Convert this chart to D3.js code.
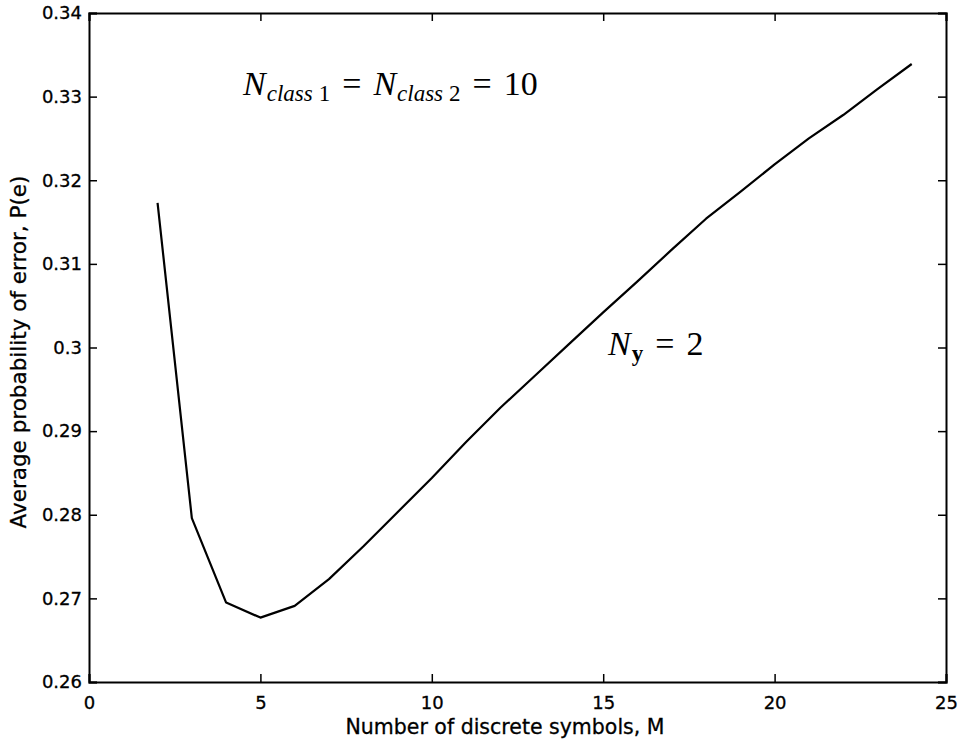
<!DOCTYPE html>
<html>
<head>
<meta charset="utf-8">
<script src="https://cdn.jsdelivr.net/npm/d3@7"></script>
<style>
  html, body { margin: 0; padding: 0; background: #fff; }
  svg { display: block; }
  .tick text { font-family: "DejaVu Sans", Arial, sans-serif; font-size: 18px; fill: #000; stroke: #000; stroke-width: 0.3px; }
  .axis-title { font-family: "DejaVu Sans", Arial, sans-serif; fill: #000; stroke: #000; stroke-width: 0.3px; }
</style>
</head>
<body>
<svg id="chart" width="959" height="744"></svg>
<script>
// Number of discrete symbols M and the average probability of error
const symbolsM = [2, 3, 4, 5, 6, 7, 8, 9, 10, 11, 12, 13, 14, 15, 16, 17, 18, 19, 20, 21, 22, 23, 24];
const errorP = [0.3173, 0.2796, 0.2695, 0.2677, 0.2691, 0.2723, 0.2762, 0.2803, 0.2844, 0.2887, 0.2928,
                0.2966, 0.3004, 0.3042, 0.3079, 0.3117, 0.3154, 0.3186, 0.3219, 0.3250, 0.3278, 0.3309, 0.3339];
const xTicks = [0, 5, 10, 15, 20, 25];
const yTicks = [0.26, 0.27, 0.28, 0.29, 0.30, 0.31, 0.32, 0.33, 0.34];

const svg = d3.select("#chart");
const margin = { left: 89, right: 13, top: 13, bottom: 62 };
const W = 959, H = 744;
const x = d3.scaleLinear().domain([0, 25]).range([margin.left, W - margin.right]);
const y = d3.scaleLinear().domain([0.26, 0.34]).range([H - margin.bottom, margin.top]);

const fmtY = d => String(+d.toFixed(2));

// Axes with inward ticks on all four sides (boxed frame)
const gx = svg.append("g").attr("transform", `translate(0,${y(0.26)})`)
  .call(d3.axisBottom(x).tickValues(xTicks).tickSize(-8).tickPadding(14).tickFormat(d3.format("d")));
const gxTop = svg.append("g").attr("transform", `translate(0,${y(0.34)})`)
  .call(d3.axisTop(x).tickValues(xTicks).tickSize(-8).tickFormat(""));
const gy = svg.append("g").attr("transform", `translate(${x(0)},0)`)
  .call(d3.axisLeft(y).tickValues(yTicks).tickSize(-8).tickPadding(7).tickFormat(fmtY));
const gyRight = svg.append("g").attr("transform", `translate(${x(25)},0)`)
  .call(d3.axisRight(y).tickValues(yTicks).tickSize(-8).tickFormat(""));

[gx, gxTop, gy, gyRight].forEach(g => {
  g.select(".domain").attr("stroke", "#000").attr("stroke-width", 2);
  g.selectAll(".tick line").attr("stroke", "#000").attr("stroke-width", 1.5);
});
gx.selectAll(".tick text").attr("dy", "0.71em");

// Curve
const line = d3.line().x((d, i) => x(symbolsM[i])).y(d => y(d));
svg.append("path")
  .datum(errorP)
  .attr("fill", "none")
  .attr("stroke", "#000")
  .attr("stroke-width", 2.2)
  .attr("stroke-linejoin", "round")
  .attr("d", line);

// Axis titles
svg.append("text")
  .attr("class", "axis-title")
  .attr("x", 505).attr("y", 734)
  .attr("font-size", 20.5)
  .attr("text-anchor", "middle")
  .text("Number of discrete symbols, M");

svg.append("text")
  .attr("class", "axis-title")
  .attr("transform", "translate(26,352) rotate(-90)")
  .attr("font-size", 21.5)
  .attr("text-anchor", "middle")
  .text("Average probability of error, P(e)");

// Math annotations
const serif = "Liberation Serif, Times New Roman, serif";
const ann1 = svg.append("text")
  .attr("x", 243).attr("y", 95)
  .attr("font-family", serif)
  .attr("font-size", 34);
ann1.append("tspan").attr("font-style", "italic").text("N");
ann1.append("tspan").attr("font-style", "italic").attr("font-size", 23).attr("dx", 1).attr("dy", 6).text("class");
ann1.append("tspan").attr("font-size", 23).attr("dx", 6).text("1");
ann1.append("tspan").attr("dy", -6).attr("dx", 12).text("=");
ann1.append("tspan").attr("font-style", "italic").attr("dx", 12).text("N");
ann1.append("tspan").attr("font-style", "italic").attr("font-size", 23).attr("dx", 1).attr("dy", 6).text("class");
ann1.append("tspan").attr("font-size", 23).attr("dx", 6).text("2");
ann1.append("tspan").attr("dy", -6).attr("dx", 12).text("=");
ann1.append("tspan").attr("dx", 12).text("10");

const ann2 = svg.append("text")
  .attr("x", 608).attr("y", 355)
  .attr("font-family", serif)
  .attr("font-size", 34);
ann2.append("tspan").attr("font-style", "italic").text("N");
ann2.append("tspan").attr("font-weight", "bold").attr("font-size", 23).attr("dx", 1).attr("dy", 6).text("y");
ann2.append("tspan").attr("dy", -6).attr("dx", 12).text("=");
ann2.append("tspan").attr("dx", 12).text("2");
</script>
</body>
</html>
